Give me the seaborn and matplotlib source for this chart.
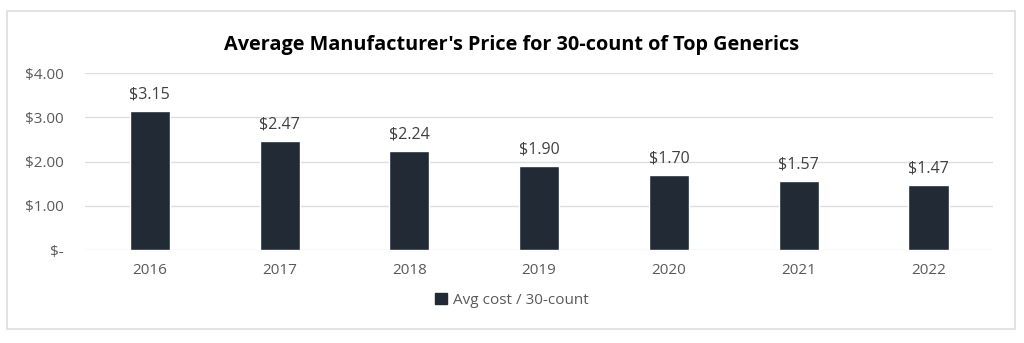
import matplotlib
matplotlib.use("Agg")
import matplotlib.pyplot as plt
import matplotlib.patches as mpatches
import seaborn as sns
import pandas as pd

years = ["2016", "2017", "2018", "2019", "2020", "2021", "2022"]
avg_cost = [3.15, 2.47, 2.24, 1.90, 1.70, 1.57, 1.47]
y_ticks = [0, 1, 2, 3, 4]
y_tick_labels = ["$-", "$1.00", "$2.00", "$3.00", "$4.00"]
series_name = "Avg cost / 30-count"
title = "Average Manufacturer's Price for 30-count of Top Generics"

bar_color = "#222a35"
text_color = "#595959"
grid_color = "#dedede"

sns.set_theme(style="white")
plt.rcParams["font.family"] = ["Open Sans", "DejaVu Sans"]

df = pd.DataFrame({"year": years, "cost": avg_cost})

fig = plt.figure(figsize=(10.24, 3.43), dpi=100)
ax = fig.add_axes([0.083, 0.271, 0.887, 0.516])

sns.barplot(data=df, x="year", y="cost", color=bar_color, width=0.31,
            saturation=1, ax=ax, zorder=3)

ax.set_ylim(0, 4)
ax.set_yticks(y_ticks)
ax.set_yticklabels(y_tick_labels)
ax.set_xlabel("")
ax.set_ylabel("")
ax.yaxis.grid(True, color=grid_color, linewidth=1, zorder=0)
ax.set_axisbelow(True)
for s in ax.spines.values():
    s.set_visible(False)
ax.tick_params(axis="y", length=0, pad=15.5, labelsize=11, labelcolor=text_color)
ax.tick_params(axis="x", length=0, pad=9, labelsize=11, labelcolor=text_color)

for cont in ax.containers:
    ax.bar_label(cont, labels=[f"${v:.2f}" for v in avg_cost], padding=6,
                 fontsize=11.5, color="#404040")

fig.text(0.5, 0.869, title, ha="center", va="center", fontsize=14.3,
         fontweight="bold", color="black")

handle = mpatches.Patch(color=bar_color, label=series_name)
fig.legend(handles=[handle], loc="center", bbox_to_anchor=(0.5, 0.125),
           frameon=False, fontsize=11, handlelength=0.75, handleheight=0.75,
           handletextpad=0.4, labelcolor=text_color)

border = mpatches.Rectangle((0.0068, 0.0408), 0.984, 0.927, transform=fig.transFigure,
                            fill=False, edgecolor=grid_color, linewidth=1.2)
fig.patches.append(border)

fig.savefig("out.png", dpi=100, facecolor="white")
